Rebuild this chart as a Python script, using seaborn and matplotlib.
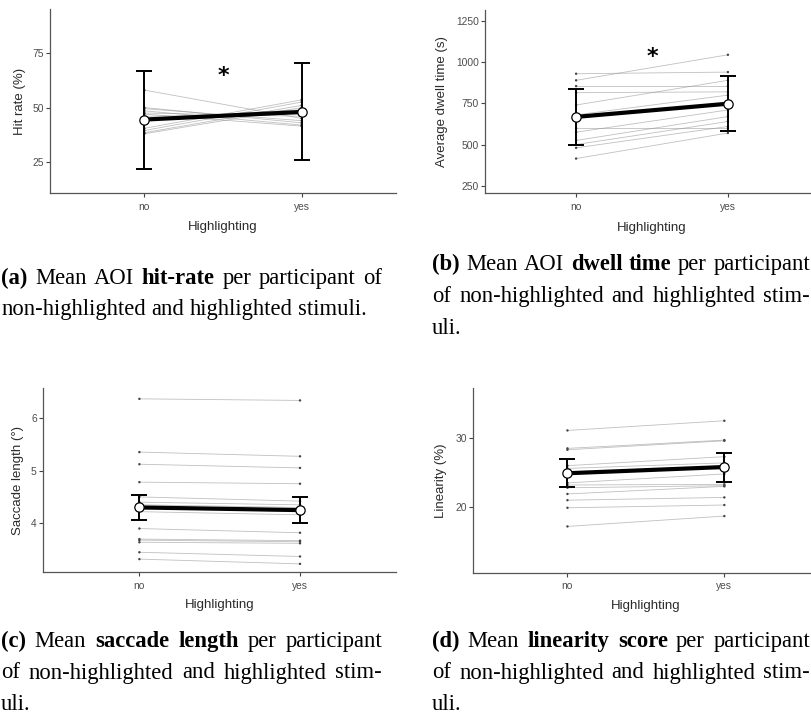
import matplotlib
matplotlib.use("Agg")
import matplotlib.pyplot as plt
import numpy as np
import pandas as pd
import seaborn as sns

# ---------------- data ----------------
conditions = ["no", "yes"]

hit_no = [58.0, 50.0, 49.5, 48.5, 47.5, 47.0, 46.0, 45.0, 40.5, 39.5, 38.5, 38.0]
hit_yes = [45.0, 43.0, 44.0, 42.0, 46.0, 41.5, 47.0, 49.0, 53.5, 52.5, 51.0, 50.0]
hit_mean = [44.5, 48.0]
hit_lo = [22.0, 25.8]
hit_hi = [66.5, 70.5]

dwell_no = [930, 890, 855, 815, 740, 680, 600, 575, 525, 500, 480, 415]
dwell_yes = [940, 1045, 855, 820, 890, 800, 600, 710, 670, 640, 610, 570]
dwell_mean = [668, 748]
dwell_lo = [500, 580]
dwell_hi = [838, 915]

sacc_no = [6.36, 5.35, 5.12, 4.78, 4.50, 4.40, 4.35, 4.30, 4.22, 3.90, 3.70, 3.68, 3.64, 3.45, 3.32]
sacc_yes = [6.33, 5.27, 5.05, 4.75, 4.42, 4.35, 4.30, 4.22, 4.16, 3.82, 3.67, 3.65, 3.62, 3.37, 3.23]
sacc_mean = [4.30, 4.25]
sacc_lo = [4.06, 4.00]
sacc_hi = [4.54, 4.49]

lin_no = [31.1, 28.5, 28.3, 26.0, 25.6, 23.5, 23.2, 22.8, 21.9, 21.0, 19.9, 17.2]
lin_yes = [32.5, 29.7, 29.6, 27.3, 26.4, 24.8, 23.3, 23.1, 23.0, 21.4, 20.3, 18.7]
lin_mean = [24.9, 25.8]
lin_lo = [22.9, 23.7]
lin_hi = [27.0, 27.9]

ylabels = ["Hit rate (%)", "Average dwell time (s)", "Saccade length (°)", "Linearity (%)"]
xlabel = "Highlighting"
star_label = "*"

captions = [
    [("**(a)** Mean AOI **hit-rate** per participant of", True),
     ("non-highlighted and highlighted stimuli.", False)],
    [("**(b)** Mean AOI **dwell time** per participant", True),
     ("of non-highlighted and highlighted stim-", True),
     ("uli.", False)],
    [("**(c)** Mean **saccade length** per participant", True),
     ("of non-highlighted and highlighted stim-", True),
     ("uli.", False)],
    [("**(d)** Mean **linearity score** per participant", True),
     ("of non-highlighted and highlighted stim-", True),
     ("uli.", False)],
]

# ---------------- style ----------------
sns.set_theme(style="ticks")
plt.rcParams['font.family'] = ['Liberation Sans', 'DejaVu Sans']

W, H = 811, 716
fig = plt.figure(figsize=(W / 100, H / 100), dpi=100)


def px_axes(l, r, t, b):
    return fig.add_axes([l / W, 1 - b / H, (r - l) / W, (b - t) / H])


def panel(ax, no_vals, yes_vals, mean, lo, hi, ylim, yticks, ylabel,
          ylab_x, xlab_y, star_y=None):
    n = len(no_vals)
    df = pd.DataFrame({
        "participant": list(range(n)) * 2,
        "x": [0] * n + [1] * n,
        "value": list(no_vals) + list(yes_vals),
    })
    sns.lineplot(data=df, x="x", y="value", units="participant", estimator=None,
                 color="#8c8c8c", lw=0.6, alpha=0.55, ax=ax, zorder=2)
    sns.scatterplot(data=df, x="x", y="value", s=3, color="#444444",
                    edgecolor="none", ax=ax, zorder=3)
    mdf = pd.DataFrame({"x": [0, 1], "mean": mean, "lo": lo, "hi": hi})
    ax.errorbar(mdf["x"], mdf["mean"],
                yerr=[mdf["mean"] - mdf["lo"], mdf["hi"] - mdf["mean"]],
                fmt="none", ecolor="black", elinewidth=1.4, capsize=5.5,
                capthick=1.4, zorder=4)
    sns.lineplot(data=mdf, x="x", y="mean", color="black", lw=3.0, ax=ax, zorder=5)
    sns.scatterplot(data=mdf, x="x", y="mean", s=45, color="white",
                    edgecolor="black", linewidth=0.9, ax=ax, zorder=6)
    if star_y is not None:
        ax.text(0.5, star_y, star_label, ha="center", va="center",
                fontsize=16, fontweight="bold", color="black",
                family=["DejaVu Sans"])
    ax.set_xlim(-0.6, 1.6)
    ax.set_ylim(*ylim)
    ax.set_xticks([0, 1])
    ax.set_xticklabels(conditions)
    ax.set_yticks(yticks)
    ax.set_yticklabels([str(v) for v in yticks])
    sns.despine(ax=ax)
    for s in ["left", "bottom"]:
        ax.spines[s].set_color("#555555")
        ax.spines[s].set_linewidth(0.9)
    ax.tick_params(axis="both", length=3, width=0.8, color="#444444",
                   labelcolor="#4D4D4D", labelsize=7.4)
    ax.tick_params(axis="x", pad=3.2)
    ax.tick_params(axis="y", pad=1.5)
    ax.set_xlabel(xlabel, fontsize=9.5, color="#2a2a2a")
    ax.set_ylabel(ylabel, fontsize=9.5, color="#2a2a2a")
    ax.yaxis.set_label_coords(ylab_x, 0.5)
    ax.xaxis.set_label_coords(0.5, xlab_y)


ax_a = px_axes(50, 396, 9, 193)
panel(ax_a, hit_no, hit_yes, hit_mean, hit_lo, hit_hi, (10.9, 95.1),
      [25, 50, 75], ylabels[0], -0.07, -0.152, star_y=64.3)

ax_b = px_axes(485, 819, 10, 193.3)
panel(ax_b, dwell_no, dwell_yes, dwell_mean, dwell_lo, dwell_hi, (204, 1317),
      [250, 500, 750, 1000, 1250], ylabels[1], -0.112, -0.159, star_y=1032)

ax_c = px_axes(43, 396.4, 388.3, 572.3)
panel(ax_c, sacc_no, sacc_yes, sacc_mean, sacc_lo, sacc_hi, (3.07, 6.56),
      [4, 5, 6], ylabels[2], -0.054, -0.146)

ax_d = px_axes(473.3, 818.5, 388.3, 572.7)
panel(ax_d, lin_no, lin_yes, lin_mean, lin_lo, lin_hi, (10.5, 37.2),
      [20, 30], ylabels[3], -0.075, -0.146)

# ---------------- captions ----------------
fig.canvas.draw()
renderer = fig.canvas.get_renderer()
CAP_SIZE = 16.3
SERIF = ["Liberation Serif", "DejaVu Serif"]


def tokens(line):
    out = []
    bold = False
    for w in line.split(" "):
        if w.startswith("**"):
            bold = True
            w = w[2:]
        end = False
        if w.endswith("**"):
            w = w[:-2]
            end = True
        out.append((w, bold))
        if end:
            bold = False
    return out


def caption(x0, x1, lines, baselines):
    for (line, justify), yb in zip(lines, baselines):
        arts = []
        for word, bold in tokens(line):
            t = fig.text(0, 1 - yb / H, word, fontsize=CAP_SIZE, family=SERIF,
                         fontweight="bold" if bold else "normal",
                         va="baseline", ha="left", color="black")
            arts.append(t)
        widths = [a.get_window_extent(renderer).width for a in arts]
        if justify and len(arts) > 1:
            gap = (x1 - x0 - sum(widths)) / (len(arts) - 1)
        else:
            gap = 0.25 * CAP_SIZE * 100 / 72
        x = x0
        for a, w in zip(arts, widths):
            a.set_x(x / W)
            x += w + gap


caption(1, 382, captions[0], [284, 315])
caption(432, 810, captions[1], [270, 302, 334])
caption(1, 382, captions[2], [647, 678.5, 709.5])
caption(432, 810, captions[3], [647, 678.5, 709.5])

fig.savefig("out.png", dpi=100)
